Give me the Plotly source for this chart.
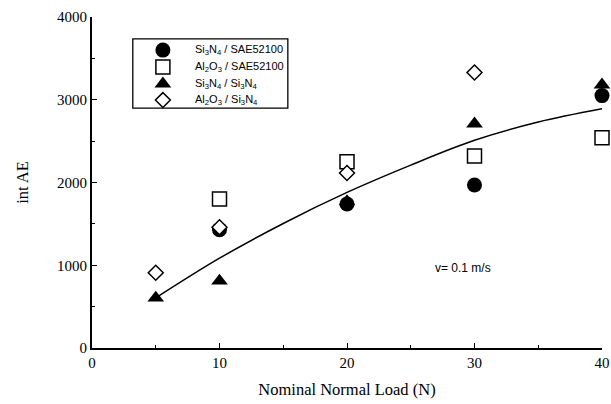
import plotly.graph_objects as go

# Nominal normal load (N) for each test series
load_si3n4_sae = [10, 20, 30, 40]
load_al2o3_sae = [10, 20, 30, 40]
load_si3n4_si3n4 = [5, 10, 20, 30, 40]
load_al2o3_si3n4 = [5, 10, 20, 30]

# Integrated acoustic emission
ae_si3n4_sae = [1430, 1740, 1970, 3050]
ae_al2o3_sae = [1800, 2250, 2320, 2540]
ae_si3n4_si3n4 = [605, 810, 1770, 2710, 3180]
ae_al2o3_si3n4 = [910, 1460, 2115, 3330]

# Trend curve through the whole data set
trend_load = [5, 10, 15, 20, 25, 30, 35, 40]
trend_ae = [605, 1085, 1505, 1880, 2210, 2510, 2730, 2890]

series_names = [
    "Si<sub>3</sub>N<sub>4</sub> / SAE52100",
    "Al<sub>2</sub>O<sub>3</sub> / SAE52100",
    "Si<sub>3</sub>N<sub>4</sub> / Si<sub>3</sub>N<sub>4</sub>",
    "Al<sub>2</sub>O<sub>3</sub> / Si<sub>3</sub>N<sub>4</sub>",
]

marker_styles = [
    dict(symbol="circle", size=15, color="black", line=dict(color="black", width=0)),
    dict(symbol="square", size=14, color="white", line=dict(color="black", width=1.5)),
    dict(symbol="triangle-up", size=14.5, color="black", line=dict(color="black", width=0)),
    dict(symbol="diamond", size=11.5, color="white", line=dict(color="black", width=1.5)),
]

serif = "Liberation Serif, Times New Roman, serif"
sans = "Liberation Sans, Arial, sans-serif"

fig = go.Figure()

fig.add_trace(go.Scatter(x=trend_load, y=trend_ae, mode="lines", line_shape="spline",
                         line=dict(color="black", width=1.5), showlegend=False))

for xs, ys, name, mk in zip(
        [load_si3n4_sae, load_al2o3_sae, load_si3n4_si3n4, load_al2o3_si3n4],
        [ae_si3n4_sae, ae_al2o3_sae, ae_si3n4_si3n4, ae_al2o3_si3n4],
        series_names, marker_styles):
    fig.add_trace(go.Scatter(x=xs, y=ys, mode="markers", marker=mk, name=name,
                             showlegend=False, cliponaxis=False))

# Legend drawn on an overlay axis spanning the plot area (0..1 in each direction)
legend_x_marker = 0.139
legend_x_text = 0.198
legend_rows = [0.900, 0.849, 0.798, 0.749]
for row_y, name, mk in zip(legend_rows, series_names, marker_styles):
    fig.add_trace(go.Scatter(x=[legend_x_marker], y=[row_y], mode="markers", marker=mk,
                             xaxis="x2", yaxis="y2", showlegend=False, hoverinfo="skip"))
    fig.add_annotation(x=legend_x_text, y=row_y, xref="x2", yref="y2", text=name,
                       showarrow=False, xanchor="left", yanchor="middle",
                       font=dict(family=sans, size=11, color="black"))

fig.add_shape(type="rect", xref="x2", yref="y2", x0=0.080, x1=0.384, y0=0.725, y1=0.934,
              line=dict(color="black", width=1.3), fillcolor="rgba(0,0,0,0)", layer="below")

fig.add_annotation(x=29.1, y=970, text="v= 0.1 m/s", showarrow=False,
                   xanchor="center", yanchor="middle",
                   font=dict(family=sans, size=12, color="black"))

fig.update_layout(
    width=611, height=404,
    margin=dict(l=92, r=9, t=17, b=56),
    paper_bgcolor="white", plot_bgcolor="white",
    showlegend=False,
    xaxis=dict(range=[0, 40], tickvals=[0, 10, 20, 30, 40], ticks="inside", ticklen=5,
               tickwidth=1, tickcolor="black", automargin=False,
               minor=dict(tickvals=[5, 15, 25, 35], ticks="inside", ticklen=3,
                          tickcolor="black", tickwidth=1),
               showline=True, linecolor="black", linewidth=1.8, showgrid=False,
               zeroline=False, tickfont=dict(family=serif, size=15, color="black"),
               title=dict(text="Nominal Normal Load (N)", standoff=14,
                          font=dict(family=serif, size=16.5, color="black"))),
    yaxis=dict(range=[0, 4000], tickvals=[0, 1000, 2000, 3000, 4000], ticks="inside",
               ticklen=5, tickwidth=1, tickcolor="black", automargin=False,
               minor=dict(tickvals=[500, 1500, 2500, 3500], ticks="inside", ticklen=3,
                          tickcolor="black", tickwidth=1),
               showline=True, linecolor="black", linewidth=1.8, showgrid=False,
               zeroline=False, tickfont=dict(family=serif, size=15, color="black"),
               title=dict(text="int AE", standoff=24,
                          font=dict(family=serif, size=16.5, color="black"))),
    xaxis2=dict(range=[0, 1], overlaying="x", anchor="y2", visible=False, fixedrange=True),
    yaxis2=dict(range=[0, 1], overlaying="y", anchor="x2", visible=False, fixedrange=True),
)

fig.write_html("out.html")
